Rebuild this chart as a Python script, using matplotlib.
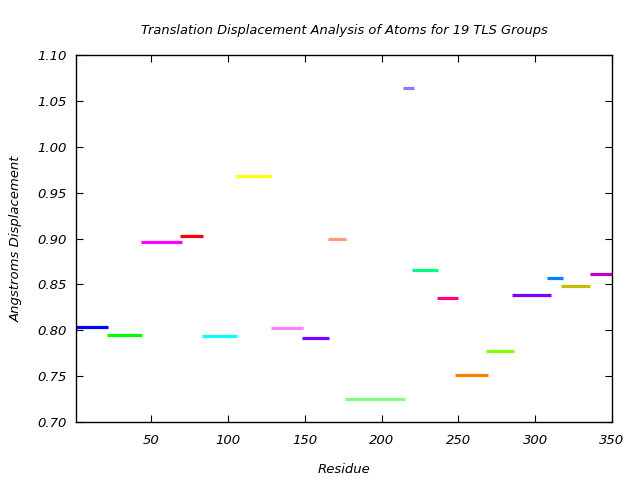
import matplotlib
matplotlib.use("Agg")
import matplotlib.pyplot as plt

starts = [1, 21, 43, 69, 83, 105, 128, 148, 165, 176, 214, 220, 236, 248, 268, 285, 308, 317, 336]
ends = [22, 44, 70, 84, 106, 128, 149, 166, 177, 215, 221, 237, 250, 269, 286, 310, 318, 336, 350]
values = [0.803, 0.7945, 0.896, 0.903, 0.7934, 0.968, 0.802, 0.792, 0.899, 0.7247,
          1.0637, 0.8653, 0.8348, 0.751, 0.777, 0.838, 0.8566, 0.848, 0.861]
colors = ["#0000ff", "#00ff00", "#ff00ff", "#ff0000", "#00ffff", "#ffff00", "#ff80ff",
          "#8000ff", "#ff9980", "#80ff80", "#8080ff", "#00ff80", "#ff0080", "#ff8000",
          "#80ff00", "#8000ff", "#0080ff", "#c0c000", "#c000c0"]

fig = plt.figure(figsize=(6.4, 4.8), dpi=100)
ax = fig.add_axes([76/640, 58/480, 536/640, 367/480])

for s, e, v, c in zip(starts, ends, values, colors):
    ax.plot([s, e], [v, v], color=c, lw=2.3, solid_capstyle="butt")

ax.set_xlim(1, 350)
ax.set_ylim(0.70, 1.10)
ax.set_xticks([50, 100, 150, 200, 250, 300, 350])
ax.set_yticks([0.70, 0.75, 0.80, 0.85, 0.90, 0.95, 1.00, 1.05, 1.10])
ax.set_yticklabels(["%.2f" % t for t in ax.get_yticks()])
ax.tick_params(direction="in", top=True, right=True, length=5, width=0.8,
               labelsize=9.5)
ax.tick_params(axis="y", pad=7)
ax.tick_params(axis="x", pad=9)
for lab in ax.get_xticklabels() + ax.get_yticklabels():
    lab.set_fontstyle("italic")
for sp in ax.spines.values():
    sp.set_linewidth(1)

ax.set_title("Translation Displacement Analysis of Atoms for 19 TLS Groups",
             fontsize=9.4, fontstyle="italic", pad=15)
ax.set_xlabel("Residue", fontsize=9.5, fontstyle="italic", labelpad=11)
ax.set_ylabel("Angstroms Displacement", fontsize=9.5, fontstyle="italic", labelpad=10)

fig.savefig("out.png", dpi=100)
